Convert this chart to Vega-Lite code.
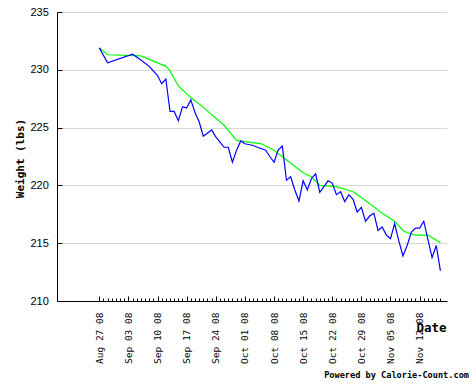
{
  "$schema": "https://vega.github.io/schema/vega-lite/v6.json",
  "width": 390,
  "height": 289,
  "autosize": "none",
  "padding": {"left": 57, "top": 12, "right": 27, "bottom": 87},
  "background": "white",
  "config": {"view": {"stroke": null}, "axis": {"tickWidth": 1, "domainWidth": 1}},
  "title": {"text": "Powered by Calorie-Count.com", "orient": "bottom", "anchor": "end", "frame": "group", "font": "DejaVu Sans Mono", "fontSize": 8.6, "fontWeight": "bold", "color": "black", "offset": 8, "dx": 22, "baseline": "top"},
  "datasets": {
    "actual": [
      {"date": "2008-08-27T00:00:00", "weight": 231.9},
      {"date": "2008-08-29T00:00:00", "weight": 230.6},
      {"date": "2008-09-04T00:00:00", "weight": 231.35},
      {"date": "2008-09-06T00:00:00", "weight": 230.85},
      {"date": "2008-09-08T00:00:00", "weight": 230.3},
      {"date": "2008-09-10T00:00:00", "weight": 229.5},
      {"date": "2008-09-11T00:00:00", "weight": 228.8},
      {"date": "2008-09-12T00:00:00", "weight": 229.2},
      {"date": "2008-09-13T00:00:00", "weight": 226.4},
      {"date": "2008-09-14T00:00:00", "weight": 226.4},
      {"date": "2008-09-15T00:00:00", "weight": 225.6},
      {"date": "2008-09-16T00:00:00", "weight": 226.8},
      {"date": "2008-09-17T00:00:00", "weight": 226.7},
      {"date": "2008-09-18T00:00:00", "weight": 227.4},
      {"date": "2008-09-19T00:00:00", "weight": 226.3},
      {"date": "2008-09-20T00:00:00", "weight": 225.5},
      {"date": "2008-09-21T00:00:00", "weight": 224.25},
      {"date": "2008-09-23T00:00:00", "weight": 224.8},
      {"date": "2008-09-24T00:00:00", "weight": 224.2},
      {"date": "2008-09-26T00:00:00", "weight": 223.3},
      {"date": "2008-09-27T00:00:00", "weight": 223.3},
      {"date": "2008-09-28T00:00:00", "weight": 222.0},
      {"date": "2008-09-29T00:00:00", "weight": 223.05},
      {"date": "2008-09-30T00:00:00", "weight": 223.85},
      {"date": "2008-10-01T00:00:00", "weight": 223.6},
      {"date": "2008-10-03T00:00:00", "weight": 223.45},
      {"date": "2008-10-04T00:00:00", "weight": 223.3},
      {"date": "2008-10-06T00:00:00", "weight": 223.05},
      {"date": "2008-10-07T00:00:00", "weight": 222.5},
      {"date": "2008-10-08T00:00:00", "weight": 222.0},
      {"date": "2008-10-09T00:00:00", "weight": 223.05},
      {"date": "2008-10-10T00:00:00", "weight": 223.4},
      {"date": "2008-10-11T00:00:00", "weight": 220.45},
      {"date": "2008-10-12T00:00:00", "weight": 220.75},
      {"date": "2008-10-13T00:00:00", "weight": 219.6},
      {"date": "2008-10-14T00:00:00", "weight": 218.65},
      {"date": "2008-10-15T00:00:00", "weight": 220.4},
      {"date": "2008-10-16T00:00:00", "weight": 219.6},
      {"date": "2008-10-17T00:00:00", "weight": 220.6},
      {"date": "2008-10-18T00:00:00", "weight": 221.0},
      {"date": "2008-10-19T00:00:00", "weight": 219.4},
      {"date": "2008-10-20T00:00:00", "weight": 219.9},
      {"date": "2008-10-21T00:00:00", "weight": 220.4},
      {"date": "2008-10-22T00:00:00", "weight": 220.2},
      {"date": "2008-10-23T00:00:00", "weight": 219.2},
      {"date": "2008-10-24T00:00:00", "weight": 219.45},
      {"date": "2008-10-25T00:00:00", "weight": 218.6},
      {"date": "2008-10-26T00:00:00", "weight": 219.2},
      {"date": "2008-10-27T00:00:00", "weight": 218.8},
      {"date": "2008-10-28T00:00:00", "weight": 217.7},
      {"date": "2008-10-29T00:00:00", "weight": 218.1},
      {"date": "2008-10-30T00:00:00", "weight": 216.9},
      {"date": "2008-10-31T00:00:00", "weight": 217.35},
      {"date": "2008-11-01T00:00:00", "weight": 217.6},
      {"date": "2008-11-02T00:00:00", "weight": 216.1},
      {"date": "2008-11-03T00:00:00", "weight": 216.4},
      {"date": "2008-11-04T00:00:00", "weight": 215.7},
      {"date": "2008-11-05T00:00:00", "weight": 215.4},
      {"date": "2008-11-06T00:00:00", "weight": 216.7},
      {"date": "2008-11-07T00:00:00", "weight": 215.2},
      {"date": "2008-11-08T00:00:00", "weight": 213.9},
      {"date": "2008-11-09T00:00:00", "weight": 214.8},
      {"date": "2008-11-10T00:00:00", "weight": 215.95},
      {"date": "2008-11-11T00:00:00", "weight": 216.3},
      {"date": "2008-11-12T00:00:00", "weight": 216.3},
      {"date": "2008-11-13T00:00:00", "weight": 216.9},
      {"date": "2008-11-14T00:00:00", "weight": 215.3},
      {"date": "2008-11-15T00:00:00", "weight": 213.75},
      {"date": "2008-11-16T00:00:00", "weight": 214.8},
      {"date": "2008-11-17T00:00:00", "weight": 212.6}
    ],
    "trend": [
      {"date": "2008-08-27T00:00:00", "weight": 231.9},
      {"date": "2008-08-29T00:00:00", "weight": 231.3},
      {"date": "2008-09-06T00:00:00", "weight": 231.2},
      {"date": "2008-09-08T00:00:00", "weight": 230.9},
      {"date": "2008-09-12T00:00:00", "weight": 230.3},
      {"date": "2008-09-13T00:00:00", "weight": 229.9},
      {"date": "2008-09-15T00:00:00", "weight": 228.6},
      {"date": "2008-09-18T00:00:00", "weight": 227.6},
      {"date": "2008-09-21T00:00:00", "weight": 226.75},
      {"date": "2008-09-26T00:00:00", "weight": 225.2},
      {"date": "2008-09-29T00:00:00", "weight": 223.9},
      {"date": "2008-10-05T00:00:00", "weight": 223.6},
      {"date": "2008-10-08T00:00:00", "weight": 223.05},
      {"date": "2008-10-11T00:00:00", "weight": 222.2},
      {"date": "2008-10-15T00:00:00", "weight": 221.1},
      {"date": "2008-10-17T00:00:00", "weight": 220.75},
      {"date": "2008-10-19T00:00:00", "weight": 220.0},
      {"date": "2008-10-23T00:00:00", "weight": 219.9},
      {"date": "2008-10-27T00:00:00", "weight": 219.45},
      {"date": "2008-10-30T00:00:00", "weight": 218.7},
      {"date": "2008-11-03T00:00:00", "weight": 217.6},
      {"date": "2008-11-06T00:00:00", "weight": 216.9},
      {"date": "2008-11-08T00:00:00", "weight": 216.1},
      {"date": "2008-11-09T00:00:00", "weight": 215.9},
      {"date": "2008-11-11T00:00:00", "weight": 215.7},
      {"date": "2008-11-14T00:00:00", "weight": 215.7},
      {"date": "2008-11-17T00:00:00", "weight": 215.05}
    ]
  },
  "encoding": {
    "y": {
      "field": "weight", "type": "quantitative",
      "scale": {"domain": [210, 235], "nice": false, "zero": false},
      "axis": {
        "values": [210, 215, 220, 225, 230, 235],
        "title": "Weight (lbs)", "titleFont": "DejaVu Sans Mono", "titleFontSize": 11, "titleFontWeight": "bold", "titleColor": "black",
        "titleAngle": 270, "titleX": -37, "titleY": 146, "titleAlign": "center", "titleBaseline": "middle",
        "labelFont": "Liberation Sans", "labelFontSize": 11, "labelColor": "black", "labelPadding": 13.7,
        "tickSize": -5, "tickColor": "black", "domainColor": "black",
        "grid": true, "gridColor": "#d8d8d8", "labelFlush": false
      }
    }
  },
  "layer": [
    {
      "data": {"name": "trend"},
      "mark": {"type": "line", "color": "#00ff00", "strokeWidth": 1.2},
      "encoding": {
        "x": {
          "field": "date", "type": "temporal",
          "scale": {"type": "time", "domain": [{"year": 2008, "month": 8, "date": 16, "hours": 20}, {"year": 2008, "month": 11, "date": 18, "hours": 14}]},
          "axis": {
            "orient": "bottom", "labels": false, "domain": false, "title": null, "grid": false,
            "tickSize": -3, "tickColor": "black",
            "values": [
              {"year": 2008, "month": 8, "date": 27}, {"year": 2008, "month": 8, "date": 28}, {"year": 2008, "month": 8, "date": 29}, {"year": 2008, "month": 8, "date": 30}, {"year": 2008, "month": 8, "date": 31},
              {"year": 2008, "month": 9, "date": 1}, {"year": 2008, "month": 9, "date": 2}, {"year": 2008, "month": 9, "date": 3}, {"year": 2008, "month": 9, "date": 4}, {"year": 2008, "month": 9, "date": 5}, {"year": 2008, "month": 9, "date": 6}, {"year": 2008, "month": 9, "date": 7}, {"year": 2008, "month": 9, "date": 8}, {"year": 2008, "month": 9, "date": 9}, {"year": 2008, "month": 9, "date": 10},
              {"year": 2008, "month": 9, "date": 11}, {"year": 2008, "month": 9, "date": 12}, {"year": 2008, "month": 9, "date": 13}, {"year": 2008, "month": 9, "date": 14}, {"year": 2008, "month": 9, "date": 15}, {"year": 2008, "month": 9, "date": 16}, {"year": 2008, "month": 9, "date": 17}, {"year": 2008, "month": 9, "date": 18}, {"year": 2008, "month": 9, "date": 19}, {"year": 2008, "month": 9, "date": 20},
              {"year": 2008, "month": 9, "date": 21}, {"year": 2008, "month": 9, "date": 22}, {"year": 2008, "month": 9, "date": 23}, {"year": 2008, "month": 9, "date": 24}, {"year": 2008, "month": 9, "date": 25}, {"year": 2008, "month": 9, "date": 26}, {"year": 2008, "month": 9, "date": 27}, {"year": 2008, "month": 9, "date": 28}, {"year": 2008, "month": 9, "date": 29}, {"year": 2008, "month": 9, "date": 30},
              {"year": 2008, "month": 10, "date": 1}, {"year": 2008, "month": 10, "date": 2}, {"year": 2008, "month": 10, "date": 3}, {"year": 2008, "month": 10, "date": 4}, {"year": 2008, "month": 10, "date": 5}, {"year": 2008, "month": 10, "date": 6}, {"year": 2008, "month": 10, "date": 7}, {"year": 2008, "month": 10, "date": 8}, {"year": 2008, "month": 10, "date": 9}, {"year": 2008, "month": 10, "date": 10},
              {"year": 2008, "month": 10, "date": 11}, {"year": 2008, "month": 10, "date": 12}, {"year": 2008, "month": 10, "date": 13}, {"year": 2008, "month": 10, "date": 14}, {"year": 2008, "month": 10, "date": 15}, {"year": 2008, "month": 10, "date": 16}, {"year": 2008, "month": 10, "date": 17}, {"year": 2008, "month": 10, "date": 18}, {"year": 2008, "month": 10, "date": 19}, {"year": 2008, "month": 10, "date": 20},
              {"year": 2008, "month": 10, "date": 21}, {"year": 2008, "month": 10, "date": 22}, {"year": 2008, "month": 10, "date": 23}, {"year": 2008, "month": 10, "date": 24}, {"year": 2008, "month": 10, "date": 25}, {"year": 2008, "month": 10, "date": 26}, {"year": 2008, "month": 10, "date": 27}, {"year": 2008, "month": 10, "date": 28}, {"year": 2008, "month": 10, "date": 29}, {"year": 2008, "month": 10, "date": 30}, {"year": 2008, "month": 10, "date": 31},
              {"year": 2008, "month": 11, "date": 1}, {"year": 2008, "month": 11, "date": 2}, {"year": 2008, "month": 11, "date": 3}, {"year": 2008, "month": 11, "date": 4}, {"year": 2008, "month": 11, "date": 5}, {"year": 2008, "month": 11, "date": 6}, {"year": 2008, "month": 11, "date": 7}, {"year": 2008, "month": 11, "date": 8}, {"year": 2008, "month": 11, "date": 9}, {"year": 2008, "month": 11, "date": 10},
              {"year": 2008, "month": 11, "date": 11}, {"year": 2008, "month": 11, "date": 12}, {"year": 2008, "month": 11, "date": 13}, {"year": 2008, "month": 11, "date": 14}, {"year": 2008, "month": 11, "date": 15}, {"year": 2008, "month": 11, "date": 16}, {"year": 2008, "month": 11, "date": 17}
            ]
          }
        }
      }
    },
    {
      "data": {"name": "actual"},
      "mark": {"type": "line", "color": "#0000ff", "strokeWidth": 1.2},
      "encoding": {
        "x": {
          "field": "date", "type": "temporal",
          "scale": {"type": "time", "domain": [{"year": 2008, "month": 8, "date": 16, "hours": 20}, {"year": 2008, "month": 11, "date": 18, "hours": 14}]},
          "axis": {
            "orient": "bottom",
            "values": [
              {"year": 2008, "month": 8, "date": 27}, {"year": 2008, "month": 9, "date": 3}, {"year": 2008, "month": 9, "date": 10}, {"year": 2008, "month": 9, "date": 17}, {"year": 2008, "month": 9, "date": 24},
              {"year": 2008, "month": 10, "date": 1}, {"year": 2008, "month": 10, "date": 8}, {"year": 2008, "month": 10, "date": 15}, {"year": 2008, "month": 10, "date": 22}, {"year": 2008, "month": 10, "date": 29},
              {"year": 2008, "month": 11, "date": 5}, {"year": 2008, "month": 11, "date": 12}
            ],
            "format": "%b %d %y", "labelAngle": 270, "labelFont": "DejaVu Sans Mono", "labelFontSize": 9.5, "labelColor": "black",
            "labelPadding": 16, "labelFlush": false, "labelOverlap": false,
            "tickSize": -5, "tickColor": "black", "domainColor": "black", "grid": false,
            "title": "Date", "titleFont": "DejaVu Sans Mono", "titleFontSize": 12.5, "titleFontWeight": "bold", "titleColor": "black",
            "titleX": 389, "titleY": 30.5, "titleAlign": "right", "titleBaseline": "alphabetic", "titleAngle": 0
          }
        }
      }
    }
  ],
  "resolve": {"axis": {"x": "independent"}}
}
